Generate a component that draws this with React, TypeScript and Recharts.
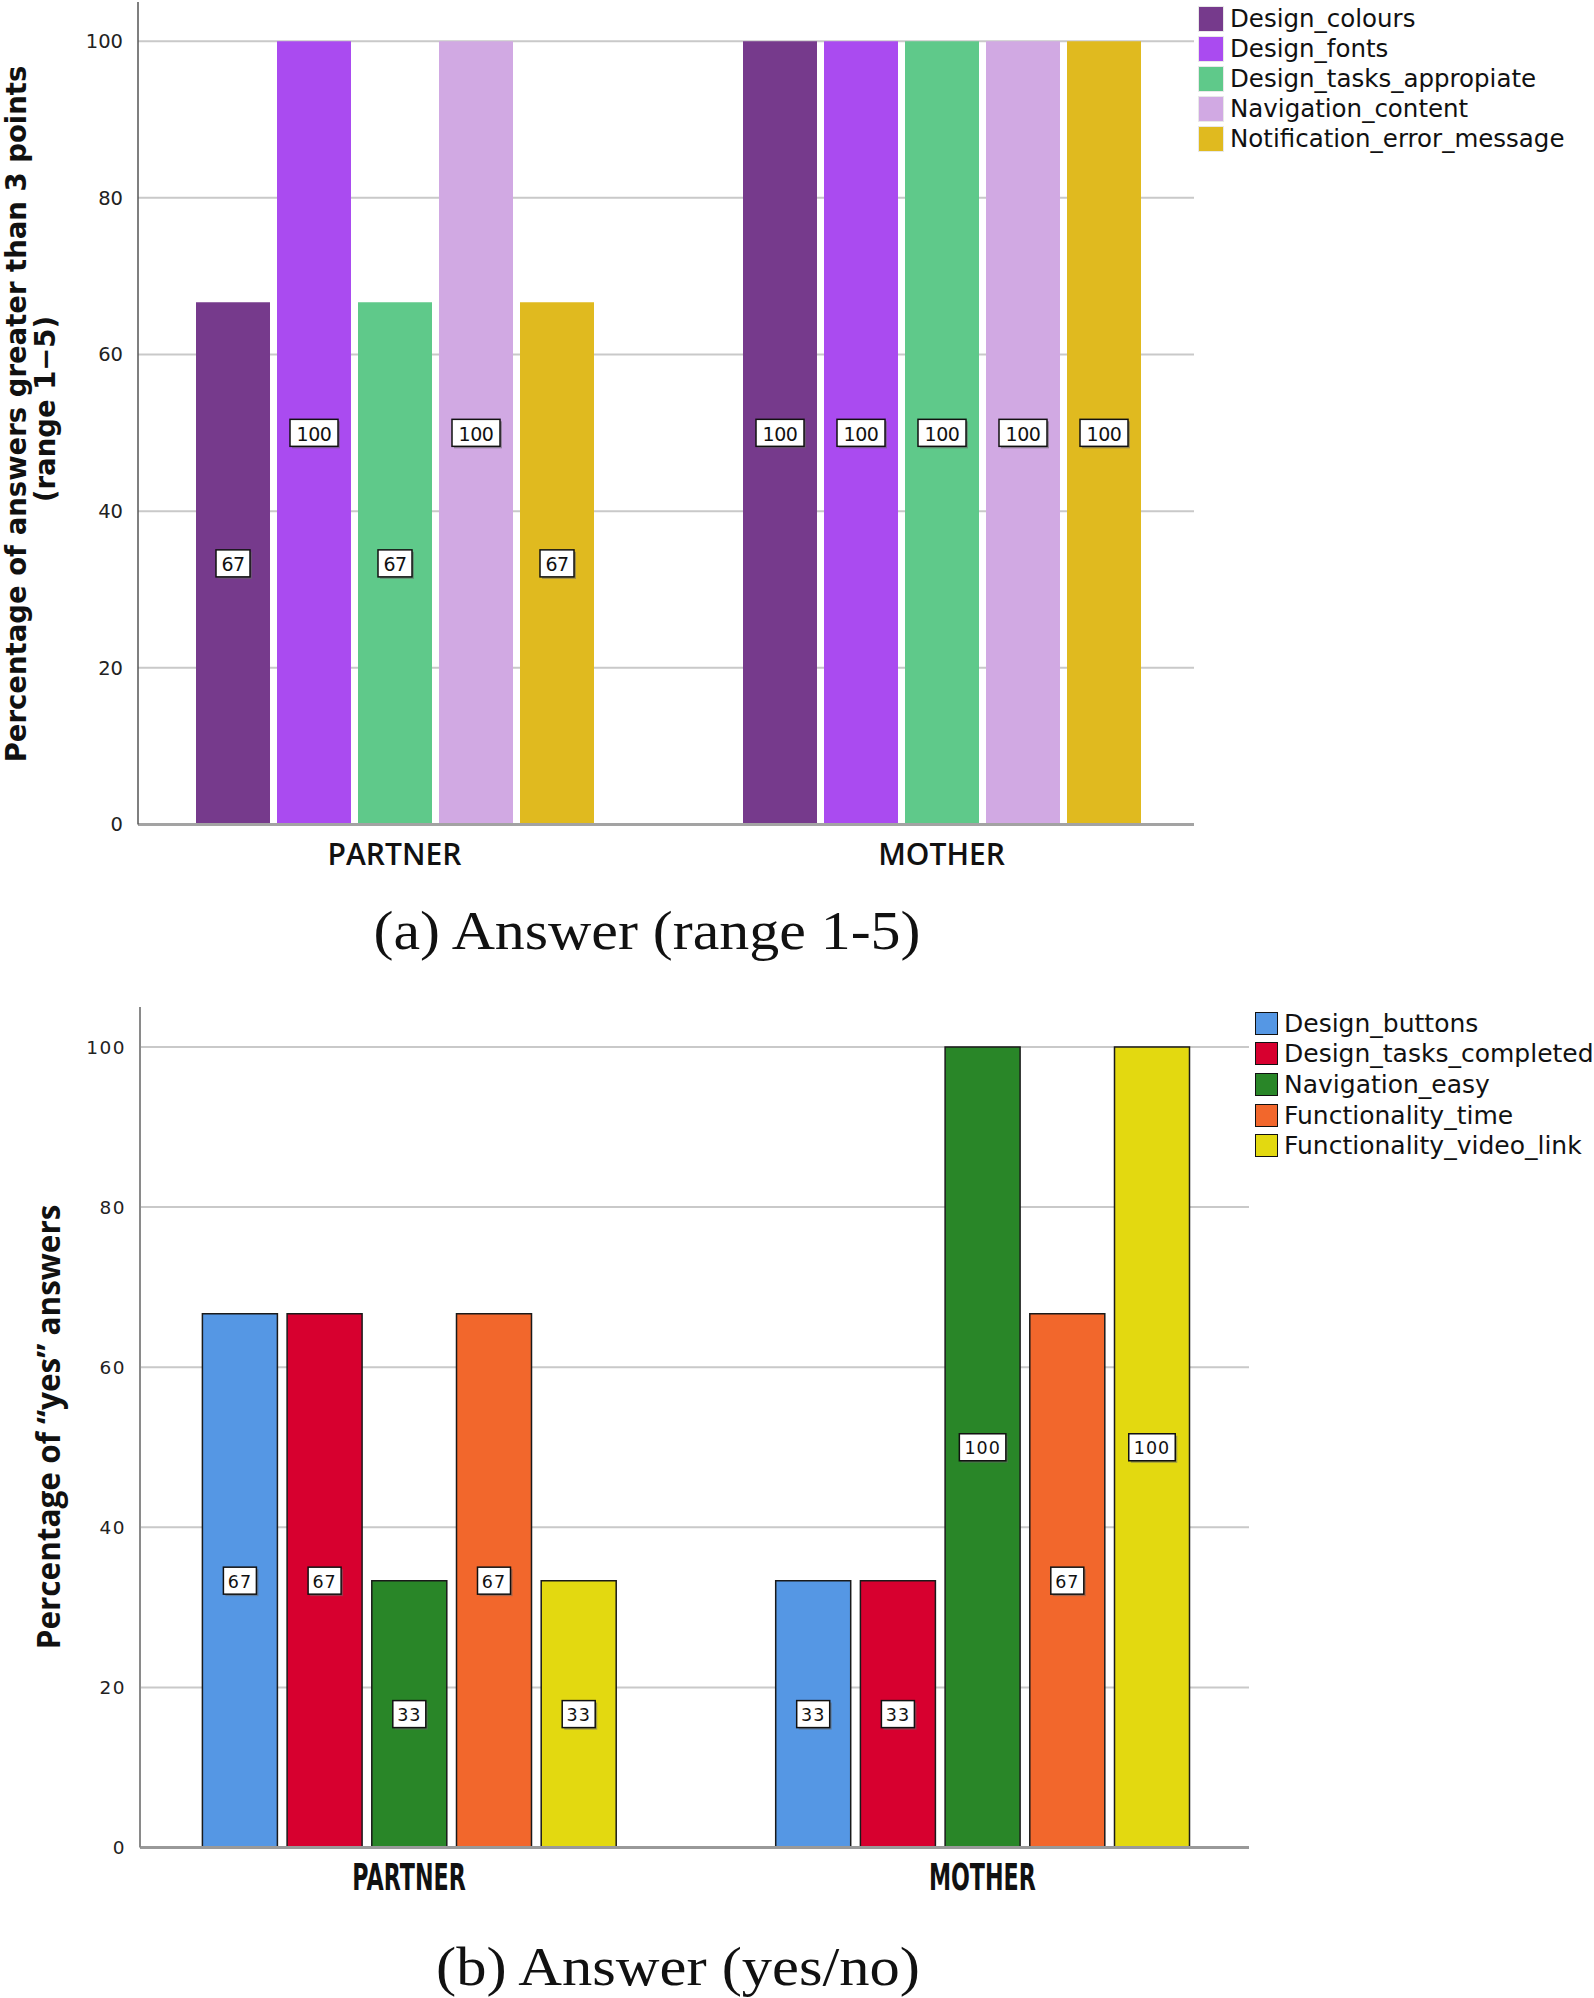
import React from 'react';
import { BarChart, Bar, XAxis, YAxis, CartesianGrid, Legend, LabelList } from 'recharts';

// categories
const groups = ['PARTNER', 'MOTHER'];

// (a) answers on a 1-5 scale
const rangeSeries = [
  'Design_colours',
  'Design_fonts',
  'Design_tasks_appropiate',
  'Navigation_content',
  'Notification_error_message',
];
const rangeColors = ['#763a8c', '#aa4bf0', '#5fc98a', '#d1a9e3', '#e0ba1f'];
const rangePartner = [66.67, 100, 66.67, 100, 66.67];
const rangeMother = [100, 100, 100, 100, 100];

// (b) yes/no answers
const yesNoSeries = [
  'Design_buttons',
  'Design_tasks_completed',
  'Navigation_easy',
  'Functionality_time',
  'Functionality_video_link',
];
const yesNoColors = ['#5597e4', '#d7002f', '#298628', '#f2672c', '#e3d910'];
const yesNoPartner = [66.67, 66.67, 33.33, 66.67, 33.33];
const yesNoMother = [33.33, 33.33, 100, 66.67, 100];

const yTicks = [0, 20, 40, 60, 80, 100];

const buildRows = (series: string[], partner: number[], mother: number[]) =>
  groups.map((g, gi) => {
    const row: Record<string, any> = { name: g };
    series.forEach((s, i) => {
      row[s] = gi === 0 ? partner[i] : mother[i];
    });
    return row;
  });

const rangeData = buildRows(rangeSeries, rangePartner, rangeMother);
const yesNoData = buildRows(yesNoSeries, yesNoPartner, yesNoMother);

const WIDE = "'DejaVu Sans', Verdana, sans-serif";
const OPEN = "'Open Sans', 'DejaVu Sans', sans-serif";

function boxLabel(font: string, fontSize: number, digitW: number, spacing: number) {
  return (props: any) => {
    const { x, y, width, height, value } = props;
    const text = String(Math.round(Number(value)));
    const w = 6 + digitW * text.length;
    const h = 27;
    const cx = Number(x) + Number(width) / 2;
    const cy = Number(y) + Number(height) / 2;
    return (
      <g>
        <rect x={cx - w / 2 + 2} y={cy - h / 2 + 2} width={w} height={h} fill="#666" opacity={0.55} />
        <rect x={cx - w / 2} y={cy - h / 2} width={w} height={h} fill="#fff" stroke="#111" strokeWidth={1.5} />
        <text
          x={cx}
          y={cy + 1}
          textAnchor="middle"
          dominantBaseline="central"
          fontFamily={font}
          fontSize={fontSize}
          letterSpacing={spacing}
          fill="#111"
        >
          {text}
        </text>
      </g>
    );
  };
}

function legendBox(names: string[], colors: string[], outlined: boolean, fontSize: number, rowH: number) {
  return () => (
    <div style={{ fontFamily: WIDE, fontSize, color: '#111', lineHeight: 1 }}>
      {names.map((n, i) => (
        <div key={n} style={{ display: 'flex', alignItems: 'center', height: rowH }}>
          <span
            style={{
              display: 'inline-block',
              width: outlined ? 21 : 24,
              height: outlined ? 21 : 24,
              background: colors[i],
              border: outlined ? '1.5px solid #111' : '1px solid #e8e8e8',
              marginRight: 6,
              flexShrink: 0,
            }}
          />
          <span style={{ whiteSpace: 'nowrap' }}>{n}</span>
        </div>
      ))}
    </div>
  );
}

const catTick = (font: string, size: number, weight: number, dy: number, stretch?: number) => (props: any) => {
  const { x, y, payload } = props;
  return (
    <text
      x={x}
      y={y + dy}
      textAnchor="middle"
      dominantBaseline="central"
      fontFamily={font}
      fontSize={size}
      fontWeight={weight}
      fill="#111"
      transform={stretch ? `translate(${x} 0) scale(${stretch} 1) translate(${-x} 0)` : undefined}
    >
      {payload.value}
    </text>
  );
};

function RangeChart() {
  return (
    <BarChart
      width={1594}
      height={900}
      data={rangeData}
      margin={{ top: 2, right: 400, bottom: 15.5, left: 78 }}
      barSize={74}
      barGap={7}
    >
      <CartesianGrid vertical={false} stroke="#c9c9c9" strokeWidth={2} syncWithTicks />
      <XAxis
        dataKey="name"
        height={60}
        padding={{ left: -17, right: -21 }}
        axisLine={{ stroke: '#a3a3a3', strokeWidth: 3 }}
        tickLine={false}
        tick={catTick(OPEN, 30, 600, 21)}
      />
      <YAxis
        width={60}
        domain={[0, 105]}
        ticks={yTicks}
        interval={0}
        axisLine={{ stroke: '#555', strokeWidth: 1.5 }}
        tickLine={false}
        tickMargin={9}
        tick={{ fontFamily: WIDE, fontSize: 19.5, fill: '#222' }}
        label={{
          content: () => (
            <g fontFamily={WIDE} fontWeight={700} fill="#111">
              <text
                x={16}
                y={414}
                transform="rotate(-90 16 414)"
                textAnchor="middle"
                dominantBaseline="central"
                fontSize={27.5}
              >
                Percentage of answers greater than 3 points
              </text>
              <text
                x={45}
                y={409}
                transform="rotate(-90 45 409)"
                textAnchor="middle"
                dominantBaseline="central"
                fontSize={27.5}
              >
                (range 1−5)
              </text>
            </g>
          ),
        }}
      />
      <Legend
        layout="vertical"
        align="center"
        verticalAlign="middle"
        wrapperStyle={{ left: 1198, top: 4, width: 396 }}
        content={legendBox(rangeSeries, rangeColors, false, 24.5, 30)}
      />
      {rangeSeries.map((s, i) => (
        <Bar key={s} dataKey={s} fill={rangeColors[i]} isAnimationActive={false}>
          <LabelList dataKey={s} content={boxLabel(WIDE, 19, 14, -0.5)} />
        </Bar>
      ))}
    </BarChart>
  );
}

function YesNoChart() {
  return (
    <BarChart
      width={1594}
      height={930}
      data={yesNoData}
      margin={{ top: 17, right: 345, bottom: 12.5, left: 80 }}
      barSize={75}
      barGap={9.7}
    >
      <CartesianGrid vertical={false} stroke="#c9c9c9" strokeWidth={2} syncWithTicks />
      <XAxis
        dataKey="name"
        height={60}
        padding={{ left: -17.6, right: -20 }}
        axisLine={{ stroke: '#999', strokeWidth: 3 }}
        tickLine={false}
        tick={catTick(WIDE, 37, 600, 22, 0.6)}
      />
      <YAxis
        width={60}
        domain={[0, 105]}
        ticks={yTicks}
        interval={0}
        axisLine={{ stroke: '#8a8a8a', strokeWidth: 2 }}
        tickLine={false}
        tickMargin={8}
        tick={{ fontFamily: WIDE, fontSize: 18.5, fill: '#222', letterSpacing: 1.5 }}
        label={{
          content: () => (
            <text
              x={47}
              y={437}
              transform="rotate(-90 47 437)"
              textAnchor="middle"
              dominantBaseline="central"
              fontFamily={OPEN}
              fontWeight={700}
              fontSize={31.5}
              fill="#111"
            >
              Percentage of “yes” answers
            </text>
          ),
        }}
      />
      <Legend
        layout="vertical"
        align="center"
        verticalAlign="middle"
        wrapperStyle={{ left: 1255, top: 18, width: 339 }}
        content={legendBox(yesNoSeries, yesNoColors, true, 25, 30.6)}
      />
      {yesNoSeries.map((s, i) => (
        <Bar key={s} dataKey={s} fill={yesNoColors[i]} stroke="#1a1a1a" strokeWidth={1.5} isAnimationActive={false}>
          <LabelList dataKey={s} content={boxLabel(WIDE, 17.5, 13.5, 1)} />
        </Bar>
      ))}
    </BarChart>
  );
}

export default function App() {
  return (
    <div style={{ position: 'absolute', left: 0, top: 0, width: 1594, height: 1998, background: '#fff' }}>
      <div style={{ position: 'absolute', left: 0, top: 0 }}>
        <RangeChart />
      </div>
      <div style={{ position: 'absolute', left: 0, top: 990 }}>
        <YesNoChart />
      </div>
      <svg width={1594} height={1998} style={{ position: 'absolute', left: 0, top: 0, pointerEvents: 'none' }}>
        <text
          x={647}
          y={949}
          textAnchor="middle"
          fontFamily="'Liberation Serif', 'DejaVu Serif', serif"
          fontSize={54}
          textLength={547}
          lengthAdjust="spacingAndGlyphs"
          fill="#111"
        >
          (a) Answer (range 1-5)
        </text>
        <text
          x={678}
          y={1985}
          textAnchor="middle"
          fontFamily="'Liberation Serif', 'DejaVu Serif', serif"
          fontSize={54}
          textLength={484}
          lengthAdjust="spacingAndGlyphs"
          fill="#111"
        >
          (b) Answer (yes/no)
        </text>
      </svg>
    </div>
  );
}
